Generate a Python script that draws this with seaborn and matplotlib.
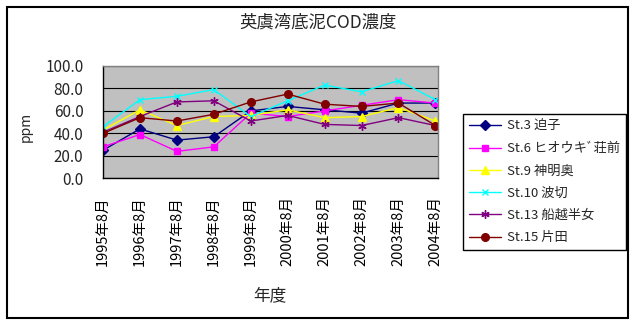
import matplotlib
matplotlib.use("Agg")
import matplotlib.pyplot as plt
import seaborn as sns
import pandas as pd
from matplotlib.patches import Rectangle

# ---- data ----
years = ["1995年8月", "1996年8月", "1997年8月", "1998年8月", "1999年8月",
         "2000年8月", "2001年8月", "2002年8月", "2003年8月", "2004年8月"]
st3 = [25, 44, 34, 37, 60, 64, 61, 58, 67, 67]
st6 = [28, 39, 24, 28, 58, 55, 60, 65, 70, 67]
st9 = [43, 61, 47, 55, 56, 61, 54, 55, 63, 51]
st10 = [46, 70, 73, 79, 55, 69, 83, 77, 87, 70]
st13 = [41, 55, 68, 69, 51, 56, 48, 47, 54, 47]
st15 = [40, 54, 51, 57, 68, 75, 66, 64, 67, 47]
series_names = ["St.3 迫子", "St.6 ヒオウキﾞ荘前", "St.9 神明奥", "St.10 波切", "St.13 船越半女", "St.15 片田"]
series_values = [st3, st6, st9, st10, st13, st15]
yticks = [0, 20, 40, 60, 80, 100]
title = "英虞湾底泥COD濃度"
xlabel = "年度"
ylabel = "ppm"

# ---- style ----
sns.set_style("white")
plt.rcParams['font.family'] = ['Noto Sans CJK JP', 'DejaVu Sans']

colors = ["#000080", "#FF00FF", "#FFFF00", "#00FFFF", "#800080", "#800000"]
markers = ["D", "s", "^", "x", (6, 2, 0), "o"]
msizes = [5.0, 5.0, 6.0, 5.0, 6.0, 5.5]

W, H = 637, 326
fig = plt.figure(figsize=(W / 100, H / 100), dpi=100)
L, R, T, B = 103, 438, 66, 178.3
ax = fig.add_axes([L / W, 1 - B / H, (R - L) / W, (B - T) / H])
ax.set_facecolor("#C0C0C0")

x = list(range(len(years)))
for name, vals, c, m, ms in zip(series_names, series_values, colors, markers, msizes):
    df = pd.DataFrame({"x": x, "y": vals})
    sns.lineplot(data=df, x="x", y="y", ax=ax, color=c, marker=m, markersize=ms,
                 markeredgecolor=c, markerfacecolor=c, markeredgewidth=1.0,
                 linewidth=1.0, label=name)

ax.set_xlim(0, 9.07)
ax.set_ylim(0, 100)
ax.set_yticks(yticks)
ax.set_yticklabels([f"{v:.1f}" for v in yticks], fontsize=11)
ax.set_xticks(x)
ax.set_xticklabels(years, rotation=90, fontsize=10.5)
ax.tick_params(axis="x", direction="in", length=4, width=0.8, pad=13, colors="black")
ax.tick_params(axis="y", direction="in", length=0, pad=14)
ax.yaxis.grid(True, color="black", linewidth=0.8)
for gl in ax.get_ygridlines():
    gl.set_zorder(0.5)

for s in ["left", "bottom"]:
    ax.spines[s].set_color("black")
    ax.spines[s].set_linewidth(1.0)
for s in ["top", "right"]:
    ax.spines[s].set_color("#808080")
    ax.spines[s].set_linewidth(1.0)

ax.set_xlabel(xlabel, fontsize=12)
ax.xaxis.label.set_va("center")
ax.xaxis.set_label_coords((270 - L) / (R - L), (B - 296) / (B - T))
ax.set_ylabel(ylabel, fontsize=10)
ax.yaxis.set_label_coords((33 - L) / (R - L), (B - 127) / (B - T))

fig.text(318 / W, 1 - 23 / H, title, ha="center", va="center", fontsize=12.5)

leg = ax.legend(loc="upper left", bbox_to_anchor=(463 / W, 1 - 114 / H),
                bbox_transform=fig.transFigure, fontsize=9.5, frameon=True,
                fancybox=False, edgecolor="black", framealpha=1,
                handlelength=2.4, handletextpad=0.45, labelspacing=0.7,
                borderpad=0.45, borderaxespad=0)
leg.get_frame().set_linewidth(1.0)

fig.patches.append(Rectangle((7 / W, 1 - 318 / H), (628 - 7) / W, (318 - 7) / H,
                             transform=fig.transFigure, fill=False,
                             edgecolor="black", linewidth=1.5))

fig.savefig("out.png", dpi=100)
